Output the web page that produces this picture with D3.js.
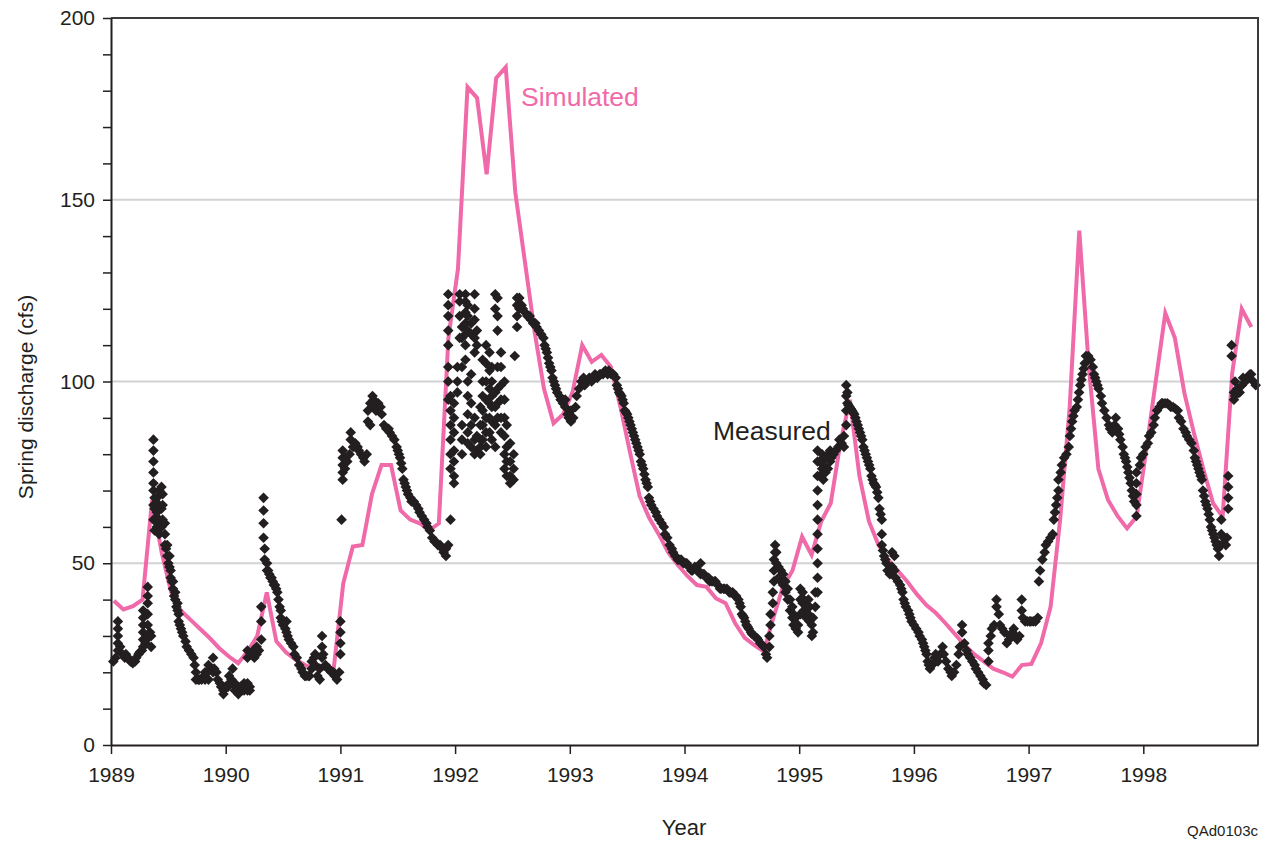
<!DOCTYPE html>
<html>
<head>
<meta charset="utf-8">
<script src="https://cdn.jsdelivr.net/npm/d3@7"></script>
<style>
  body { margin: 0; background: #ffffff; }
  text { font-family: "Liberation Sans", Arial, Helvetica, sans-serif; }
</style>
</head>
<body>
<svg id="chart" width="1270" height="844"></svg>
<script>
// ---- data -------------------------------------------------------------
const yearTicks = [1989, 1990, 1991, 1992, 1993, 1994, 1995, 1996, 1997, 1998];
const cfsTicks = [0, 50, 100, 150, 200];
const cfsMinorTicks = [0, 10, 20, 30, 40, 50, 60, 70, 80, 90, 100, 110, 120, 130, 140, 150, 160, 170, 180, 190, 200];

// Simulated monthly spring discharge (cfs), Jan 1989 - Dec 1998
const simulatedStartYear = 1989;
const simulated = [
  39.7, 37.3, 38.2, 40, 67.4, 53, 42, 37, 34.5, 32, 29.5, 26.7,        // 1989
  24.4, 22.5, 25.8, 30, 42, 28.5, 25.5, 23.5, 22, 21, 21, 21,          // 1990
  44.5, 54.6, 55, 69, 77, 77, 64.5, 62, 61, 59, 61, 112,               // 1991
  131, 181, 178, 157, 183.5, 186.5, 152, 133, 114, 98, 88.5, 91,       // 1992
  97.2, 110, 105.4, 107.3, 104, 93, 80.5, 68.5, 62.5, 58, 53, 49.5,    // 1993
  46.5, 44, 43.5, 40.3, 39, 33.5, 29.5, 27.5, 25.7, 35, 43.5, 48,      // 1994
  57.3, 52.3, 61.5, 66.5, 83, 95, 74, 61.5, 55, 51, 48, 45,            // 1995
  41.5, 38.5, 36.3, 33.5, 30.5, 27.5, 25, 23, 21, 20, 18.8, 22,        // 1996
  22.3, 28, 38, 62, 93, 141.5, 104, 76, 67.5, 63, 59.6, 62.8,          // 1997
  81, 100, 118.8, 112, 96.8, 85.8, 75.7, 66.5, 62.8, 102.3, 120, 115   // 1998
];

// Measured spring discharge: [decimal year, reading(s) in cfs on that date]
const measured = [
  // 1989
  [1989.02,23],[1989.04,24],[1989.06,26,28,30,32,34],[1989.08,27],[1989.10,25],[1989.12,24],[1989.13,25],
  [1989.15,24],[1989.17,23],[1989.19,22.5],[1989.21,23],[1989.22,24],[1989.24,25],[1989.25,25.5],[1989.27,26],
  [1989.28,27,29,31,33,35,37],[1989.30,28],[1989.31,29],[1989.32,30,33,36,39,41,43.5],[1989.34,31],[1989.35,30,27],
  [1989.37,62,66,70,72,75,78,81,84],[1989.38,59,62,65,68],[1989.40,60,64,68],[1989.42,58,62,66,70],
  [1989.44,60,65,71],[1989.45,62,66,69],[1989.47,55,58,61],[1989.48,54],[1989.49,52,55],[1989.50,50],
  [1989.51,49,52],[1989.52,46,48],[1989.53,45],[1989.54,43,45],[1989.55,41],[1989.56,40,42],[1989.57,38],
  [1989.58,37,39],[1989.59,34,36],[1989.60,33],[1989.61,32],[1989.62,31],[1989.63,30],[1989.65,28.5],
  [1989.66,27],[1989.68,26],[1989.70,25],[1989.72,24],[1989.73,22],[1989.74,20,18],[1989.76,18],[1989.77,18],
  [1989.79,18],[1989.81,19],[1989.82,18,20],[1989.84,20],[1989.85,22,18],[1989.87,21],[1989.89,24,20],
  [1989.90,21],[1989.92,20],[1989.93,18],[1989.95,17],[1989.96,16],[1989.98,14,15],
  // 1990
  [1990.00,16],[1990.02,16],[1990.03,17,19],[1990.05,18],[1990.06,21,17],[1990.08,17,15],[1990.10,15],
  [1990.11,14],[1990.13,16],[1990.14,15],[1990.16,15,17],[1990.18,16],[1990.19,17,15,24,26],[1990.21,15,16],
  [1990.22,25],[1990.24,26],[1990.25,26,24],[1990.27,25,27],[1990.29,26],[1990.31,29,34,38],
  [1990.33,68,64.5,61,57],[1990.34,54,51],[1990.36,50,48],[1990.37,48],[1990.38,47],[1990.39,46],[1990.40,46],
  [1990.41,45],[1990.42,44],[1990.43,44],[1990.44,43],[1990.45,42],[1990.46,40],[1990.47,38],[1990.48,37,35],
  [1990.49,34],[1990.50,33],[1990.52,32],[1990.53,34,31],[1990.54,30],
  [1990.55,29],[1990.57,28],[1990.59,27],[1990.60,25],[1990.62,24],[1990.64,22],[1990.66,21],[1990.67,20],
  [1990.69,19],[1990.70,19],[1990.72,19],[1990.73,19],[1990.75,21,23],[1990.77,24],[1990.78,25,22],
  [1990.80,19],[1990.82,18,21],[1990.84,24,27,30],[1990.85,25],[1990.87,22],[1990.89,21],[1990.90,21],
  [1990.92,20],[1990.94,20],[1990.95,19],[1990.97,18],[1990.99,20],
  // 1991
  [1991.00,25,28,31,34],[1991.01,62],[1991.02,73,75,77,79,81],[1991.04,76,79],[1991.06,78],[1991.08,80],
  [1991.09,84,86],[1991.11,82],[1991.13,83],[1991.15,82],[1991.16,81],[1991.18,80],[1991.20,79],
  [1991.21,78],[1991.23,80],[1991.24,89,92],[1991.26,94,88],[1991.28,96,93],[1991.29,95],[1991.31,92],
  [1991.33,94],[1991.35,93],[1991.36,91],[1991.38,88],[1991.40,87],[1991.42,87],[1991.43,86],[1991.45,85],
  [1991.47,84],[1991.49,82],[1991.50,81],[1991.51,80],[1991.52,79],[1991.53,77.5],[1991.54,76],[1991.55,73],
  [1991.56,72],[1991.57,71],[1991.58,70],[1991.59,69],
  [1991.61,68],[1991.62,67],[1991.64,67],[1991.66,66],[1991.68,65],[1991.69,64],[1991.71,63],[1991.73,62],
  [1991.75,61],[1991.76,60],[1991.78,59],[1991.80,57],[1991.82,56],[1991.83,56],[1991.85,55],[1991.87,55],
  [1991.89,54],[1991.90,53],[1991.92,52,54],[1991.94,55,95,100,104,110,114,118,121,124],
  [1991.96,62,76,80,84,88,92,96],[1991.99,72,74,78,81,86,90,94],
  // 1992
  [1992.02,97,100,104],[1992.04,112,118,122,124],[1992.06,80,84,88,104,112,115],
  [1992.09,106,110,113,116,119,122,124],[1992.11,83,86,91,96,100,114,118,121],[1992.14,82,88,94,102,113,116],
  [1992.17,80,84,90,108,112,117,120,124],[1992.19,81,85,110,114],[1992.22,80,82,84,88,93],
  [1992.24,84,88,92,96,100,106],[1992.27,82,86,90,95,100,105,110],[1992.30,86,90,94,98,103,108],
  [1992.32,84,89,93,96,100,104],[1992.35,82,88,93,97,120,124],[1992.37,90,94,98,104,114,118,123],
  [1992.40,86,90,95,99,104,108],[1992.43,76,80,85,90,95,100],[1992.45,74,78,82,88],[1992.48,72,74,78,83],
  [1992.51,73,76,80],[1992.52,107],[1992.54,115,118,121,123],[1992.56,120,123],[1992.58,121],[1992.59,120],
  [1992.61,119],[1992.63,118],[1992.65,118],[1992.66,117],[1992.68,116],[1992.70,116],[1992.71,115],
  [1992.73,114],[1992.75,113],[1992.77,112],[1992.78,110],[1992.79,109],[1992.80,108],[1992.81,106.5],
  [1992.82,105],[1992.83,104],[1992.84,103],[1992.85,101],[1992.86,100],[1992.87,99],[1992.88,98],
  [1992.89,97],[1992.91,96],[1992.92,95],[1992.94,94],[1992.96,93,95],
  [1992.98,91],[1992.99,90],
  // 1993
  [1993.01,92,89],[1993.03,90],[1993.05,93],[1993.06,96],[1993.08,98],[1993.10,100],[1993.12,101],
  [1993.13,99],[1993.15,100],[1993.17,101],[1993.19,100],[1993.20,101],[1993.22,102],[1993.24,101],
  [1993.26,102],[1993.27,102],[1993.29,102],[1993.31,103],[1993.33,102],[1993.34,103],[1993.36,102],
  [1993.38,102],[1993.40,101],[1993.41,99],[1993.42,98],[1993.43,97],[1993.44,96.5],[1993.45,96],[1993.46,95],
  [1993.47,94],[1993.48,92],[1993.49,91.5],[1993.50,91],[1993.51,90],
  [1993.52,89],[1993.53,88],[1993.54,87],[1993.55,86],[1993.56,85],[1993.57,84],[1993.58,83],[1993.59,82],
  [1993.60,81],[1993.61,80],[1993.62,78],[1993.63,77],[1993.64,76],[1993.65,74.5],
  [1993.66,73],[1993.67,72],[1993.68,71],[1993.69,68],[1993.70,67],[1993.71,66],[1993.73,65],[1993.75,64],
  [1993.76,63],[1993.78,62],
  [1993.80,61],[1993.82,60],[1993.83,58],[1993.85,57],[1993.87,55],[1993.89,54],[1993.90,53],[1993.92,52],
  [1993.94,51],[1993.95,51],[1993.97,51],[1993.99,50],
  // 1994
  [1994.01,50],[1994.02,50],[1994.04,49],[1994.06,48],[1994.07,48],[1994.09,49],[1994.11,48],[1994.12,48],
  [1994.14,50,47],[1994.16,47],[1994.17,47],[1994.19,46],[1994.21,46],[1994.22,45],[1994.24,45],[1994.26,45],
  [1994.27,45],[1994.29,44],[1994.31,43],[1994.32,43],[1994.34,43],[1994.35,43],[1994.37,43],[1994.39,42],
  [1994.40,42],[1994.42,42],[1994.44,41],[1994.45,41],[1994.47,40],[1994.48,39],[1994.49,38],[1994.50,36],
  [1994.51,35.5],[1994.52,35],[1994.53,34],[1994.54,33],[1994.55,32.5],[1994.56,32],[1994.58,31],
  [1994.59,30.5],[1994.61,30],[1994.63,29.5],[1994.64,29],
  [1994.66,28],[1994.68,27.5],[1994.69,27],[1994.71,25],[1994.72,24],[1994.74,27,30],[1994.75,33,36],
  [1994.77,39,42],[1994.78,45,48,51],[1994.79,53,55],[1994.80,53,50],[1994.82,49,46],[1994.84,48,45],
  [1994.86,47,44],[1994.88,45,42],[1994.90,43,40],[1994.92,40,37],[1994.94,38,35],[1994.95,36,33],
  [1994.97,35,32],[1994.99,33,31],
  // 1995
  [1995.01,36,40,43],[1995.03,42,39],[1995.04,40,37],[1995.06,38,35],[1995.08,36,40],[1995.09,38,34],
  [1995.11,33,30],[1995.12,31,35],[1995.14,38,42],[1995.16,42,46,50,54,58,62,66,70,74,78,81],
  [1995.18,78,74],[1995.20,76,80],[1995.21,73,77],[1995.23,75,79],[1995.25,76,80],[1995.27,78,81],
  [1995.28,79],[1995.30,80],[1995.32,81],[1995.34,82],[1995.35,84],[1995.37,83],[1995.39,82,85],
  [1995.41,88,92,96,99],[1995.42,97,94],[1995.43,93.5],[1995.44,93],[1995.45,92.5],[1995.46,92],[1995.47,91.5],
  [1995.48,91],[1995.49,90],[1995.50,89],[1995.51,88],[1995.52,87],
  [1995.53,86],[1995.54,85],[1995.55,84],[1995.56,82],[1995.57,81],[1995.58,80],[1995.59,79],[1995.60,78],
  [1995.61,77],[1995.62,76],[1995.63,74],[1995.64,73],[1995.65,72],[1995.66,71.5],
  [1995.67,71],[1995.68,69.5],[1995.69,68],[1995.70,65],[1995.71,63.5],[1995.72,62,58,55],[1995.73,53.5],
  [1995.74,52],[1995.75,51],[1995.76,50],[1995.77,48],
  [1995.79,47],[1995.81,49,53],[1995.83,52,48],[1995.84,46],[1995.86,45],[1995.88,44],[1995.89,43],[1995.90,42],
  [1995.91,40],[1995.92,39],[1995.93,38],[1995.95,37],[1995.96,36],[1995.97,35],[1995.98,34],
  // 1996
  [1996.00,33],[1996.02,32],[1996.04,31],[1996.05,30],[1996.07,29],[1996.08,28],[1996.09,27],[1996.10,26],
  [1996.11,25],[1996.12,23],[1996.13,22],
  [1996.14,21],[1996.16,22],[1996.18,24],[1996.19,25],[1996.21,23],[1996.23,25],[1996.25,27],[1996.26,25],
  [1996.28,23],[1996.30,21],[1996.32,20],[1996.33,19],[1996.35,20],[1996.37,22],[1996.39,25],[1996.40,27],
  [1996.42,31,33],[1996.44,28],[1996.46,26],[1996.47,25],[1996.49,24],[1996.51,23],[1996.53,22],
  [1996.54,21],[1996.56,20],[1996.58,19],[1996.60,18],[1996.61,17],[1996.63,16.5],[1996.65,23,26,28],
  [1996.67,30],[1996.68,32],[1996.70,33],[1996.72,38,40],[1996.74,36],[1996.75,33],[1996.77,32],
  [1996.79,31],[1996.81,28],[1996.83,29],[1996.84,30],[1996.86,31],[1996.87,32],[1996.88,30],[1996.90,29],
  [1996.92,30],[1996.94,40,37],[1996.95,35],[1996.97,34],[1996.99,34],
  // 1997
  [1997.01,34],[1997.02,34],[1997.04,34],[1997.06,34],[1997.08,35],[1997.09,45],[1997.10,48],[1997.12,51],
  [1997.14,53],[1997.15,55],[1997.17,56],[1997.19,57],[1997.21,58],[1997.22,62],[1997.23,64],[1997.24,66],
  [1997.25,68],[1997.26,70,73],
  [1997.28,75],[1997.29,77],[1997.31,79],[1997.33,80],[1997.35,82],[1997.36,85],[1997.37,87],[1997.38,89],
  [1997.39,90.5],[1997.40,92],
  [1997.42,93],[1997.43,95],[1997.44,97],[1997.45,99],[1997.46,100.5],[1997.47,102],[1997.48,103.5],
  [1997.49,105],[1997.50,107],[1997.52,107],
  [1997.54,106],[1997.56,104],[1997.57,102],[1997.58,101],[1997.59,100],[1997.60,99],[1997.61,98],[1997.63,96],
  [1997.64,94],[1997.66,92],[1997.68,90],[1997.70,88],[1997.71,87],[1997.73,86],[1997.75,88],[1997.76,90],
  [1997.78,87],[1997.79,85.5],[1997.80,84],[1997.82,82],[1997.83,80],[1997.84,79],[1997.85,78],[1997.86,76.5],
  [1997.87,75],[1997.88,73.5],[1997.89,72],[1997.90,70],[1997.91,68.5],[1997.92,67],
  [1997.94,63,66,69,72,75],[1997.97,77],[1997.98,79],
  // 1998
  [1998.00,80],[1998.02,82],[1998.04,83],[1998.05,85],[1998.07,86],[1998.09,88],[1998.10,90],[1998.12,92],
  [1998.14,93],[1998.16,94],[1998.17,94],[1998.19,94],[1998.21,94],[1998.23,93.5],[1998.24,93],[1998.26,93],
  [1998.28,92.5],[1998.30,92],[1998.31,90],[1998.33,89],[1998.35,87],[1998.37,86],[1998.38,85],[1998.40,84],
  [1998.42,83],[1998.44,81],[1998.45,79],[1998.46,78],[1998.47,77],[1998.48,76],[1998.49,75],[1998.50,74],
  [1998.51,73],[1998.52,70],[1998.53,68.5],[1998.54,67],
  [1998.55,66],[1998.56,65],[1998.57,63.5],[1998.58,62],[1998.59,60],[1998.60,59],[1998.61,58],[1998.62,57],
  [1998.63,56],[1998.64,55],[1998.65,54],[1998.66,52],
  [1998.68,55,58,62],[1998.70,57],[1998.72,55],[1998.73,57],[1998.74,65,68,71,74],[1998.77,107,110],
  [1998.79,95,97],[1998.80,100,96],[1998.82,98],[1998.84,97],[1998.86,99],[1998.87,101],[1998.89,100],
  [1998.91,101],[1998.93,102],[1998.94,102],[1998.96,100],[1998.98,99]
];

// ---- layout -----------------------------------------------------------
const plot = { left: 111, top: 18, right: 1258, bottom: 745 };
const pink = "#f06aa9";
const ink = "#231f20";

const svg = d3.select("#chart");

const x = d3.scaleLinear().domain([1989, 1999]).range([plot.left, plot.right]);
const y = d3.scaleLinear().domain([0, 200]).range([plot.bottom, plot.top]);

// horizontal grid lines
svg.append("g")
  .selectAll("line")
  .data(cfsTicks.filter(v => v > 0 && v < 200))
  .join("line")
  .attr("x1", plot.left).attr("x2", plot.right)
  .attr("y1", d => y(d)).attr("y2", d => y(d))
  .attr("stroke", "#d1d2d4").attr("stroke-width", 2);

// simulated line (monthly values plotted near the 10th of each month)
const simPoints = simulated.map((v, i) => [simulatedStartYear + (i + 0.3) / 12, v]);
svg.append("path")
  .datum(simPoints)
  .attr("fill", "none")
  .attr("stroke", pink)
  .attr("stroke-width", 4)
  .attr("stroke-linejoin", "miter")
  .attr("d", d3.line().x(d => x(d[0])).y(d => y(d[1])));

// measured readings as diamonds
const measuredPoints = measured.flatMap(row => row.slice(1).map(v => [row[0], v]));
const diamond = d3.symbol().type(d3.symbolDiamond2).size(72);
svg.append("g")
  .selectAll("path")
  .data(measuredPoints)
  .join("path")
  .attr("d", diamond)
  .attr("transform", d => `translate(${x(d[0])},${y(d[1])})`)
  .attr("fill", ink);

// frame: top and right edges
svg.append("path")
  .attr("d", `M${plot.left},${plot.top}H${plot.right}V${plot.bottom}`)
  .attr("fill", "none")
  .attr("stroke", "#3b3b3b")
  .attr("stroke-width", 2);

// y axis
const yAxis = d3.axisLeft(y)
  .tickValues(cfsMinorTicks)
  .tickFormat(d => cfsTicks.includes(d) ? d : "")
  .tickSize(8)
  .tickSizeOuter(0)
  .tickPadding(8);
const gy = svg.append("g").attr("transform", `translate(${plot.left},0)`).call(yAxis);
gy.select(".domain").attr("stroke", ink).attr("stroke-width", 2);
gy.selectAll(".tick line").attr("stroke", ink).attr("stroke-width", 1.5);
gy.selectAll(".tick text").attr("fill", ink).style("font-size", "21px")
  .style("font-family", "'Liberation Sans', Arial, sans-serif");

// x axis
const xAxis = d3.axisBottom(x)
  .tickValues(yearTicks)
  .tickFormat(d3.format("d"))
  .tickSize(9)
  .tickSizeOuter(0)
  .tickPadding(13);
const gx = svg.append("g").attr("transform", `translate(0,${plot.bottom})`).call(xAxis);
gx.select(".domain").attr("stroke", ink).attr("stroke-width", 2);
gx.selectAll(".tick line").attr("stroke", ink).attr("stroke-width", 1.5);
gx.selectAll(".tick text").attr("fill", ink).style("font-size", "21px")
  .style("font-family", "'Liberation Sans', Arial, sans-serif");

// axis titles
svg.append("text")
  .attr("transform", "translate(33,397) rotate(-90)")
  .attr("text-anchor", "middle")
  .attr("fill", ink)
  .style("font-size", "21px")
  .text("Spring discharge (cfs)");

svg.append("text")
  .attr("x", 684).attr("y", 835)
  .attr("text-anchor", "middle")
  .attr("fill", ink)
  .style("font-size", "22px")
  .text("Year");

svg.append("text")
  .attr("x", 1258).attr("y", 836)
  .attr("text-anchor", "end")
  .attr("fill", ink)
  .style("font-size", "15px")
  .text("QAd0103c");

// series labels
svg.append("text")
  .attr("x", 521).attr("y", 106)
  .attr("fill", pink)
  .style("font-size", "26.5px")
  .text("Simulated");

svg.append("text")
  .attr("x", 713).attr("y", 440)
  .attr("fill", ink)
  .style("font-size", "26.5px")
  .text("Measured");
</script>
</body>
</html>
